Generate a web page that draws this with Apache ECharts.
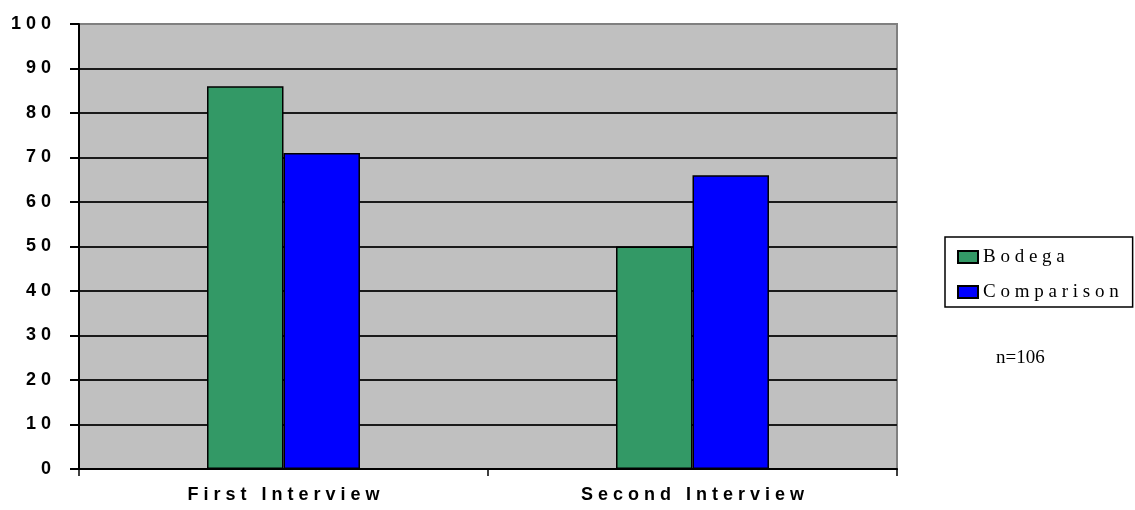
<!DOCTYPE html>
<html>
<head>
<meta charset="utf-8">
<script src="https://cdn.jsdelivr.net/npm/echarts@6/dist/echarts.min.js"></script>
<style>
  html, body { margin: 0; padding: 0; background: #fff; }
  #chart { width: 1135px; height: 510px; }
</style>
</head>
<body>
<div id="chart"></div>
<script>
// Interview rounds on the x axis, percentages on the y axis
const categories = ['First Interview', 'Second Interview'];
const bodegaValues = [86, 50];
const comparisonValues = [71, 66];
const seriesNames = ['Bodega', 'Comparison'];
const yTicks = { min: 0, max: 100, interval: 10 };
const sampleNote = 'n=106';

// Spread letters apart, the way the labels were typeset
const spaced = (s, gap) => s.split(' ').map(w => w.split('').join(gap)).join(gap + gap + ' ');

const chart = echarts.init(document.getElementById('chart'), null, { renderer: 'canvas' });

chart.setOption({
  animation: false,
  backgroundColor: '#ffffff',
  grid: {
    left: 79, right: 238, top: 24, bottom: 41,
    show: true,
    backgroundColor: '#c0c0c0',
    borderColor: '#808080',
    borderWidth: 2
  },
  legend: {
    orient: 'vertical',
    left: 945,
    top: 237,
    padding: [10, 14, 5, 12],
    itemWidth: 20,
    itemHeight: 12,
    itemGap: 15,
    borderColor: '#000',
    borderWidth: 1.5,
    backgroundColor: '#fff',
    icon: 'rect',
    textStyle: { fontFamily: 'Liberation Serif', fontSize: 19, color: '#000', lineHeight: 20 },
    formatter: name => name.split('').join(' ')
  },
  xAxis: {
    type: 'category',
    data: categories,
    axisLine: { lineStyle: { color: '#000', width: 2 } },
    axisTick: { show: true, length: 7, lineStyle: { color: '#000', width: 1.5 } },
    axisLabel: {
      margin: 17,
      fontFamily: 'Liberation Sans',
      fontWeight: 'bold',
      fontSize: 18,
      color: '#000',
      formatter: v => spaced(v, ' ')
    }
  },
  yAxis: {
    type: 'value',
    min: yTicks.min,
    max: yTicks.max,
    interval: yTicks.interval,
    axisLine: { show: true, lineStyle: { color: '#000', width: 2 } },
    axisTick: { show: true, length: 9, lineStyle: { color: '#000', width: 2 } },
    axisLabel: {
      margin: 28,
      fontFamily: 'Liberation Sans',
      fontWeight: 'bold',
      fontSize: 18,
      color: '#000',
      formatter: v => String(v).split('').join(' ')
    },
    splitLine: { show: true, showMaxLine: false, lineStyle: { color: '#1a1a1a', width: 2 } }
  },
  series: [
    {
      name: seriesNames[0],
      type: 'bar',
      data: bodegaValues,
      barGap: '0%',
      barCategoryGap: '62.6%',
      itemStyle: { color: '#339966', borderColor: '#000', borderWidth: 1.5 }
    },
    {
      name: seriesNames[1],
      type: 'bar',
      data: comparisonValues,
      barGap: '0%',
      barCategoryGap: '62.6%',
      itemStyle: { color: '#0000ff', borderColor: '#000', borderWidth: 1.5 }
    }
  ],
  graphic: [
    {
      type: 'text',
      left: 996,
      top: 349,
      style: { text: sampleNote, font: '19px "Liberation Serif"', fill: '#000' }
    }
  ]
});
</script>
</body>
</html>
